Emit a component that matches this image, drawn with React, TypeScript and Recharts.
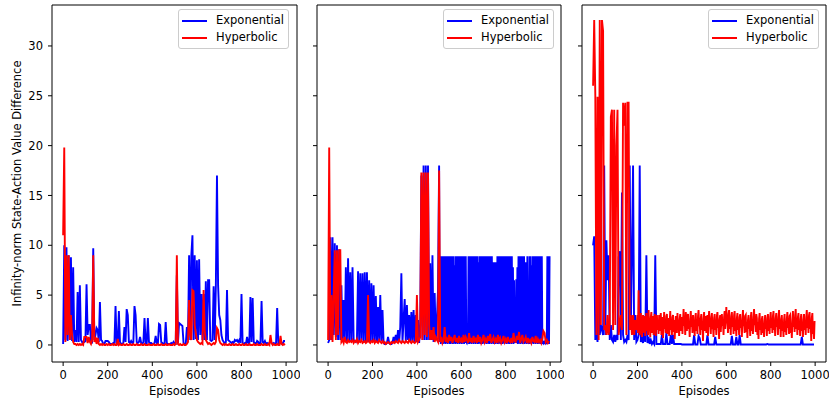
import { Legend, Line, LineChart, ReferenceArea, XAxis, YAxis } from "recharts";

// values sampled every 5 episodes (0, 5, ..., 995), one row = 100 episodes
const STEP = 5;
// the dense blocks (middle blue, right red) are sampled every 2.5 episodes, one row = 50 episodes
const FINE_STEP = 2.5;

const p1Exp = [
  0.1, 10.0, 0.5, 9.8, 0.4, 9.0, 0.5, 8.8, 0.4, 7.8, 0.3, 1.5, 0.3, 5.3, 0.3, 6.0, 0.5, 0.3, 0.3, 0.3,
  0.4, 6.1, 1.0, 2.0, 2.0, 0.4, 0.3, 9.7, 0.5, 1.0, 1.7, 1.5, 0.3, 4.3, 0.5, 0.4, 0.1, 0.1, 0.4, 0.4,
  0.4, 0.3, 0.1, 0.1, 0.1, 0.2, 0.1, 3.9, 0.2, 0.1, 3.4, 0.3, 0.1, 0.1, 0.2, 1.8, 0.3, 3.6, 3.0, 0.3,
  0.2, 0.4, 0.2, 0.3, 3.9, 3.0, 0.3, 0.2, 0.3, 0.8, 0.2, 0.1, 0.3, 2.7, 0.2, 0.2, 2.7, 0.3, 0.2, 0.2,
  0.1, 0.1, 0.2, 0.9, 0.2, 0.1, 2.1, 2.0, 0.3, 0.2, 0.1, 0.2, 2.3, 0.2, 0.1, 0.1, 0.1, 0.2, 0.1, 0.3,
  0.1, 0.1, 7.0, 0.2, 2.2, 2.1, 2.0, 1.9, 0.2, 0.1, 0.1, 1.8, 0.5, 9.0, 0.5, 9.0, 11.0, 0.5, 9.0, 0.6,
  8.5, 0.5, 8.6, 1.0, 5.1, 0.5, 5.1, 0.5, 6.4, 0.5, 6.5, 6.5, 0.5, 0.4, 0.5, 5.9, 0.5, 6.0, 17.0, 6.0,
  3.0, 2.5, 1.0, 0.5, 0.3, 0.2, 0.3, 5.5, 0.5, 0.4, 0.3, 0.2, 0.3, 0.2, 0.5, 0.4, 0.5, 0.3, 0.5, 0.2,
  5.1, 0.2, 0.1, 0.2, 0.1, 0.8, 0.2, 0.1, 4.8, 0.3, 4.7, 0.3, 0.2, 0.1, 0.4, 0.3, 0.1, 0.2, 4.4, 0.3,
  0.2, 0.4, 0.1, 0.2, 0.1, 0.2, 0.4, 0.2, 0.1, 0.2, 0.1, 0.2, 3.7, 0.2, 0.1, 0.3, 0.2, 0.1, 0.4, 0.4,
];

const p1Hyp = [
  11.0, 19.8, 0.3, 9.0, 1.0, 9.0, 0.5, 3.0, 1.0, 0.3, 0.1, 0.1, 0.0, 0.1, 0.0, 0.1, 0.0, 0.1, 0.0, 0.8,
  0.8, 0.8, 0.2, 0.8, 0.3, 0.1, 0.5, 9.0, 0.3, 0.8, 0.1, 0.7, 0.1, 0.0, 0.1, 0.0, 0.1, 0.0, 0.0, 0.1,
  0.0, 0.1, 0.0, 0.0, 0.1, 0.0, 0.1, 0.0, 0.0, 0.6, 0.0, 0.1, 0.0, 0.0, 0.1, 0.0, 0.0, 0.1, 0.0, 0.0,
  0.1, 0.0, 0.0, 0.1, 0.0, 0.0, 0.1, 0.0, 0.0, 0.0, 0.1, 0.0, 0.0, 0.1, 0.0, 0.0, 0.0, 0.1, 0.0, 0.0,
  0.0, 0.1, 0.0, 0.0, 0.0, 0.1, 0.0, 0.0, 0.1, 0.0, 0.0, 0.0, 0.1, 0.0, 0.0, 0.1, 0.0, 0.0, 0.0, 0.1,
  0.0, 0.1, 9.0, 0.1, 0.0, 0.1, 0.0, 0.0, 0.1, 0.0, 0.0, 0.1, 0.3, 4.5, 1.0, 0.5, 5.5, 5.4, 2.0, 1.2,
  0.5, 0.3, 0.2, 0.1, 0.2, 0.1, 5.5, 1.4, 0.5, 0.3, 0.1, 0.2, 0.1, 0.0, 0.1, 0.2, 0.1, 0.3, 1.7, 1.5,
  0.5, 0.2, 0.1, 0.0, 0.1, 0.0, 0.1, 0.0, 0.0, 0.1, 0.0, 0.0, 0.1, 0.0, 0.0, 0.1, 0.0, 0.0, 0.1, 0.0,
  0.0, 0.1, 0.0, 0.0, 0.1, 0.0, 0.0, 0.1, 0.0, 0.0, 0.0, 0.1, 0.0, 0.0, 0.1, 0.0, 0.0, 0.0, 0.1, 0.0,
  0.0, 0.1, 0.0, 0.0, 0.1, 0.0, 1.0, 0.2, 0.0, 0.1, 0.0, 0.0, 0.1, 0.0, 0.0, 0.9, 0.1, 0.0, 0.1, 0.0,
];

// episodes 0..495, step 5
const p2ExpHead = [
  0.2, 0.5, 10.8, 0.5, 10.8, 1.0, 10.2, 0.8, 10.0, 0.5, 9.6, 0.5, 6.0, 0.3, 4.5, 0.5, 7.8, 0.4, 8.7, 0.3,
  7.3, 0.3, 7.8, 0.5, 0.4, 0.3, 0.6, 7.4, 0.3, 7.2, 0.5, 7.2, 0.2, 7.3, 0.4, 7.3, 0.3, 6.5, 0.3, 6.2,
  0.4, 6.0, 0.3, 4.9, 0.3, 3.8, 0.5, 5.0, 0.4, 3.5, 0.2, 0.1, 0.1, 0.2, 0.8, 0.2, 0.1, 0.1, 0.2, 0.8,
  0.3, 1.0, 0.4, 1.5, 0.3, 1.8, 7.2, 0.3, 2.5, 4.6, 0.3, 4.0, 0.5, 3.0, 0.3, 3.3, 0.4, 3.5, 0.3, 3.0,
  0.3, 2.5, 0.2, 2.0, 17.0, 0.5, 18.0, 0.5, 18.0, 0.5, 18.0, 0.5, 8.2, 0.5, 9.0, 0.3, 5.2, 0.5, 2.5, 5.5,
];

// episodes 500..997.5, step 2.5
const p2ExpTail = [
  18.0, 0.3, 8.9, 0.1, 8.9, 0.2, 8.9, 0.1, 8.9, 0.2, 8.9, 0.1, 8.9, 0.2, 8.9, 0.1, 8.9, 0.3, 8.9, 0.1,
  8.9, 0.1, 8.9, 0.2, 8.9, 0.1, 8.9, 0.2, 8.0, 0.1, 8.9, 0.2, 8.9, 0.1, 8.9, 0.2, 8.9, 0.1, 8.9, 0.2,
  8.9, 0.1, 8.9, 0.2, 8.9, 0.1, 8.9, 0.2, 8.9, 0.3, 0.2, 0.4, 0.2, 8.9, 0.1, 8.9, 0.2, 8.9, 0.1, 8.9,
  0.2, 8.9, 0.1, 8.9, 0.2, 8.9, 0.1, 8.9, 0.2, 8.9, 0.1, 8.3, 0.2, 8.9, 0.1, 8.9, 0.2, 8.9, 0.1, 8.9,
  0.2, 8.9, 0.1, 8.9, 0.2, 8.9, 0.1, 8.9, 0.2, 8.9, 0.1, 8.9, 0.2, 8.9, 0.1, 8.9, 0.2, 8.3, 0.1, 8.3,
  0.2, 8.3, 0.1, 8.3, 0.2, 8.9, 0.1, 8.9, 0.2, 8.9, 0.1, 8.9, 0.2, 8.9, 0.1, 8.9, 0.2, 8.9, 0.1, 8.9,
  0.2, 8.9, 0.1, 8.9, 0.2, 8.9, 0.1, 8.9, 0.2, 8.9, 0.1, 8.9, 0.2, 7.8, 0.1, 6.5, 0.2, 4.3, 0.3, 6.6,
  0.2, 7.8, 0.1, 8.9, 0.2, 8.9, 0.1, 8.9, 0.2, 8.9, 0.1, 8.9, 0.2, 8.9, 0.1, 8.3, 0.2, 8.3, 0.1, 8.9,
  0.2, 5.5, 0.1, 8.9, 0.2, 8.9, 0.1, 8.0, 0.2, 8.9, 0.1, 8.9, 0.2, 8.9, 0.1, 8.9, 0.2, 8.9, 0.1, 8.9,
  0.2, 8.9, 0.1, 8.9, 0.2, 8.9, 0.1, 0.3, 0.2, 0.4, 0.1, 0.3, 0.2, 0.4, 0.1, 8.9, 0.2, 8.9, 0.1, 8.9,
];

const p2Hyp = [
  0.5, 19.8, 0.5, 5.0, 0.3, 5.0, 9.5, 0.5, 9.5, 1.0, 9.5, 9.5, 0.3, 0.5, 0.2, 0.8, 0.3, 0.2, 0.5, 0.3,
  0.4, 0.3, 0.5, 0.2, 0.4, 0.3, 0.6, 0.2, 0.4, 0.3, 0.5, 0.2, 0.3, 0.4, 0.2, 0.3, 5.0, 0.3, 0.2, 0.4,
  0.3, 0.5, 0.2, 0.4, 0.3, 0.2, 0.5, 0.3, 0.2, 0.4, 0.2, 0.3, 0.1, 0.2, 0.3, 0.2, 0.1, 0.3, 0.2, 0.3,
  0.2, 0.4, 0.3, 0.2, 0.5, 0.3, 0.2, 0.4, 0.3, 0.2, 0.4, 0.3, 0.2, 0.5, 0.3, 0.2, 0.4, 0.3, 0.2, 0.3,
  5.0, 0.3, 0.5, 0.8, 17.3, 0.5, 17.3, 1.0, 17.3, 0.8, 17.3, 2.0, 0.5, 1.5, 0.5, 1.8, 0.3, 0.8, 0.5, 0.3,
  17.5, 0.3, 0.8, 0.2, 0.5, 1.8, 0.3, 0.6, 0.2, 1.0, 0.4, 0.8, 0.2, 0.6, 1.0, 0.3, 0.7, 0.2, 0.9, 0.4,
  0.6, 0.2, 1.0, 0.3, 0.8, 0.5, 0.2, 1.2, 0.3, 0.7, 0.2, 0.9, 0.4, 0.6, 0.2, 1.0, 0.3, 0.8, 0.2, 0.5,
  1.0, 0.3, 0.6, 0.2, 0.9, 0.4, 1.1, 0.2, 0.5, 0.8, 0.3, 0.6, 0.2, 1.0, 0.4, 0.7, 0.2, 0.5, 0.9, 0.3,
  0.6, 0.2, 0.8, 0.4, 0.3, 0.7, 0.2, 1.2, 0.4, 0.3, 0.9, 0.5, 1.3, 0.2, 0.6, 1.0, 0.3, 0.5, 0.8, 0.2,
  0.7, 0.3, 0.5, 0.2, 0.8, 0.4, 0.3, 0.9, 0.2, 0.6, 0.3, 0.5, 0.2, 0.7, 1.4, 1.2, 0.3, 0.5, 0.2, 0.4,
];

const p3Exp = [
  10.0, 10.9, 0.5, 1.5, 0.3, 10.0, 1.0, 2.0, 1.5, 1.0, 18.0, 1.0, 10.5, 6.5, 9.0, 0.5, 2.0, 0.5, 0.3, 1.0,
  0.3, 1.0, 0.5, 8.8, 9.4, 0.5, 15.3, 1.0, 0.3, 0.5, 0.3, 1.0, 0.5, 18.0, 2.0, 9.0, 18.0, 0.5, 3.0, 0.3,
  0.5, 1.0, 18.0, 0.3, 0.8, 0.2, 1.5, 0.3, 9.0, 0.2, 0.8, 0.1, 0.5, 0.1, 0.3, 0.1, 9.0, 0.1, 0.1, 0.1,
  0.1, 0.1, 1.0, 0.1, 0.1, 0.1, 1.2, 0.1, 0.1, 0.1, 1.0, 0.1, 1.0, 0.1, 0.1, 0.1, 0.1, 0.1, 0.1, 0.1,
  0.05, 0.05, 0.05, 0.05, 0.05, 0.05, 0.05, 0.05, 0.05, 0.05, 0.05, 1.0, 0.05, 0.05, 0.05, 0.9, 0.7, 0.05, 0.05, 0.05,
  0.05, 0.05, 0.05, 1.0, 0.05, 0.05, 0.05, 0.05, 0.05, 0.05, 0.8, 0.05, 0.05, 0.05, 0.05, 0.05, 0.05, 0.05, 0.05, 0.05,
  0.05, 0.05, 0.05, 0.05, 0.05, 0.9, 0.05, 0.05, 0.05, 0.8, 0.05, 0.05, 1.0, 0.05, 0.05, 0.05, 0.05, 0.05, 0.05, 0.05,
  0.05, 0.05, 0.05, 0.05, 0.05, 0.05, 0.05, 0.05, 0.05, 0.05, 0.05, 0.05, 0.05, 0.05, 0.05, 0.05, 0.05, 0.1, 0.05, 0.05,
  0.05, 0.05, 0.05, 0.05, 0.05, 0.05, 0.05, 0.05, 0.05, 0.05, 0.05, 0.05, 0.05, 0.05, 0.05, 0.05, 0.05, 0.05, 0.05, 0.05,
  0.05, 0.05, 0.05, 0.05, 0.05, 0.05, 0.05, 0.05, 0.8, 0.05, 0.05, 0.05, 0.05, 0.05, 0.05, 0.05, 0.05, 0.05, 0.05, 0.05,
];

// episodes 0..195, step 5
const p3HypHead = [
  26.0, 32.6, 25.0, 1.0, 24.9, 0.5, 32.6, 2.0, 32.6, 31.5, 1.5, 2.0, 1.0, 3.0, 1.0, 2.0, 22.9, 23.6, 1.5, 23.6,
  2.0, 20.0, 23.6, 1.0, 2.0, 3.0, 1.5, 24.3, 22.0, 24.3, 1.0, 24.3, 24.3, 1.5, 3.0, 1.0, 3.0, 1.0, 2.5, 1.5,
];

// episodes 200..997.5, step 2.5
const p3HypTail = [
  3.0, 1.2, 5.5, 2.0, 1.0, 2.6, 3.2, 1.5, 0.8, 2.4, 3.0, 1.8, 1.2, 2.9, 0.9, 2.2, 3.2, 1.4, 2.6, 1.0,
  3.5, 1.8, 2.3, 0.8, 2.8, 3.3, 1.2, 2.0, 2.9, 1.0, 1.7, 3.1, 2.2, 0.9, 2.6, 3.0, 1.5, 2.4, 1.1, 3.0,
  1.4, 2.5, 3.2, 1.0, 2.1, 2.8, 0.7, 1.9, 3.3, 1.6, 2.4, 1.2, 2.9, 3.1, 1.1, 2.0, 2.7, 0.9, 2.3, 3.4,
  1.5, 2.2, 1.0, 2.8, 3.0, 1.3, 2.5, 0.6, 1.8, 2.9, 2.1, 1.2, 3.2, 1.7, 2.4, 0.9, 2.6, 3.1, 1.4, 2.0,
  2.8, 1.1, 2.4, 3.6, 1.9, 2.7, 1.0, 3.3, 2.2, 1.4, 2.9, 3.1, 1.6, 2.3, 0.8, 2.6, 3.4, 1.8, 2.5, 1.2,
  3.0, 1.7, 2.2, 0.9, 2.8, 3.2, 1.4, 2.5, 1.1, 2.9, 3.5, 1.9, 2.4, 1.0, 2.7, 3.1, 1.5, 2.2, 0.4, 2.6,
  3.3, 1.4, 2.1, 2.9, 1.2, 2.6, 3.0, 0.9, 2.3, 3.4, 1.8, 2.5, 1.1, 2.8, 3.2, 1.6, 2.0, 0.8, 2.7, 3.1,
  1.5, 2.4, 1.0, 2.9, 3.3, 1.7, 2.2, 0.6, 2.6, 3.0, 1.3, 2.4, 3.1, 1.9, 2.5, 1.0, 2.8, 3.4, 1.6, 2.3,
  3.8, 2.2, 2.7, 1.2, 3.1, 3.5, 1.6, 2.4, 1.0, 2.9, 3.3, 1.8, 2.6, 1.1, 3.0, 3.4, 1.4, 2.2, 0.9, 2.7,
  3.2, 1.5, 2.5, 1.0, 2.8, 3.1, 1.7, 2.3, 0.8, 2.6, 3.5, 1.9, 2.4, 1.2, 2.9, 3.0, 1.3, 2.1, 0.7, 2.5,
  3.0, 1.6, 2.4, 0.9, 2.7, 3.3, 1.4, 2.2, 1.1, 2.8, 3.6, 2.0, 2.5, 1.3, 3.1, 2.7, 1.0, 2.3, 0.6, 2.6,
  3.2, 1.5, 2.3, 1.0, 2.6, 2.9, 1.2, 2.0, 0.8, 2.4, 3.0, 1.6, 2.2, 0.9, 2.7, 3.1, 1.4, 2.5, 1.1, 2.8,
  3.3, 1.7, 2.6, 1.2, 2.9, 3.4, 1.5, 2.4, 0.9, 2.7, 3.2, 1.8, 2.5, 1.0, 2.8, 3.5, 1.6, 2.3, 0.8, 2.6,
  3.0, 1.4, 2.2, 0.8, 2.5, 3.1, 1.3, 2.1, 1.0, 2.6, 3.3, 1.7, 2.4, 1.1, 2.9, 3.0, 1.2, 2.0, 0.7, 2.4,
  3.4, 1.8, 2.7, 1.3, 3.0, 3.6, 1.6, 2.5, 1.0, 2.8, 3.2, 1.5, 2.3, 0.9, 2.6, 3.1, 1.4, 2.2, 0.8, 2.5,
  3.1, 1.5, 2.4, 1.0, 2.8, 3.5, 1.7, 2.6, 1.2, 3.0, 3.3, 1.6, 2.3, 0.4, 2.7, 3.2, 1.1, 2.0, 0.6, 2.4,
];

const xTicks = [0, 200, 400, 600, 800, 1000];
const yTicks = [0, 5, 10, 15, 20, 25, 30];
const X_DOMAIN = [-49.95, 1048.95];
const Y_DOMAIN = [-1.71, 34.11];
const FONT = '"DejaVu Sans", sans-serif';
const FONT_SIZE = 11.5;
const LINE_W = 1.9;
const BLUE = "#0000ff";
const RED = "#ff0000";

const toPoints = (values: number[], start: number, step: number) =>
  values.map((v, i) => ({ ep: start + i * step, v }));

const LegendBox = ({ payload }: any) => (
  <div
    style={{
      width: 111,
      height: 40,
      boxSizing: "border-box",
      border: "1px solid #cccccc",
      borderRadius: 3,
      background: "rgba(255,255,255,0.8)",
      position: "relative",
      fontFamily: FONT,
      fontSize: FONT_SIZE,
    }}
  >
    {(payload || []).map((entry: any, i: number) => (
      <div
        key={entry.value}
        style={{
          position: "absolute",
          left: 3,
          top: 2 + i * 17,
          height: 17,
          display: "flex",
          alignItems: "center",
          whiteSpace: "nowrap",
        }}
      >
        <span
          style={{
            display: "inline-block",
            width: 25,
            height: 2,
            background: entry.color,
            marginRight: 9,
          }}
        />
        <span style={{ color: "#000", lineHeight: "17px" }}>{entry.value}</span>
      </div>
    ))}
  </div>
);

const YLabel = (props: any) => {
  const { viewBox } = props;
  const cy = viewBox.y + viewBox.height / 2;
  return (
    <text
      x={17}
      y={cy}
      transform={`rotate(-90 17 ${cy})`}
      textAnchor="middle"
      dominantBaseline="central"
      fontSize={FONT_SIZE}
      fontFamily={FONT}
      fill="#000"
    >
      Infinity-norm State-Action Value Difference
    </text>
  );
};

interface PanelProps {
  exp: { ep: number; v: number }[];
  hyp: { ep: number; v: number }[];
  left: number;
  plotWidth: number;
  axisWidth: number;
  showYLabels: boolean;
}

const Panel = ({ exp, hyp, left, plotWidth, axisWidth, showYLabels }: PanelProps) => {
  const tickStyle = { fill: "#000", fontSize: FONT_SIZE, fontFamily: FONT };
  return (
    <div style={{ position: "absolute", left, top: 0 }}>
      <LineChart
        width={axisWidth + plotWidth + 3}
        height={398}
        margin={{ top: 5, right: 3, bottom: 0, left: 0 }}
      >
        <XAxis
          dataKey="ep"
          type="number"
          domain={X_DOMAIN}
          ticks={xTicks}
          interval={0}
          height={36}
          tickSize={4}
          tickMargin={5}
          axisLine={false}
          tickLine={{ stroke: "#000" }}
          tick={tickStyle}
          allowDataOverflow
          label={{
            value: "Episodes",
            position: "insideBottom",
            offset: 3,
            fill: "#000",
            fontSize: FONT_SIZE,
            fontFamily: FONT,
          }}
        />
        <YAxis
          type="number"
          domain={Y_DOMAIN}
          ticks={yTicks}
          interval={0}
          width={axisWidth}
          tickSize={4}
          tickMargin={5}
          axisLine={false}
          tickLine={{ stroke: "#000" }}
          tick={tickStyle}
          allowDataOverflow
          tickFormatter={showYLabels ? undefined : () => ""}
          label={showYLabels ? YLabel : undefined}
        />
        <Line
          data={exp}
          type="linear"
          dataKey="v"
          name="Exponential"
          stroke={BLUE}
          strokeWidth={LINE_W}
          dot={false}
          isAnimationActive={false}
        />
        <Line
          data={hyp}
          type="linear"
          dataKey="v"
          name="Hyperbolic"
          stroke={RED}
          strokeWidth={LINE_W}
          dot={false}
          isAnimationActive={false}
        />
        <ReferenceArea
          x1={X_DOMAIN[0]}
          x2={X_DOMAIN[1]}
          y1={Y_DOMAIN[0]}
          y2={Y_DOMAIN[1]}
          fill="none"
          stroke="#000"
          strokeWidth={1}
          strokeOpacity={1}
          ifOverflow="visible"
        />
        <Legend
          layout="horizontal"
          align="center"
          verticalAlign="middle"
          wrapperStyle={{ left: axisWidth + 126, top: 9, width: 111, height: 40 }}
          content={(props: any) => <LegendBox payload={props.payload} />}
        />
      </LineChart>
    </div>
  );
};

export default function App() {
  const p2ExpPoints = [
    ...toPoints(p2ExpHead, 0, STEP),
    ...toPoints(p2ExpTail, 500, FINE_STEP),
  ];
  const p3HypPoints = [
    ...toPoints(p3HypHead, 0, STEP),
    ...toPoints(p3HypTail, 200, FINE_STEP),
  ];
  return (
    <div
      style={{
        position: "absolute",
        left: 0,
        top: 0,
        width: 831,
        height: 398,
        background: "#fff",
        overflow: "hidden",
      }}
    >
      <Panel
        exp={toPoints(p1Exp, 0, STEP)}
        hyp={toPoints(p1Hyp, 0, STEP)}
        left={0}
        plotWidth={245}
        axisWidth={52}
        showYLabels
      />
      <Panel
        exp={p2ExpPoints}
        hyp={toPoints(p2Hyp, 0, STEP)}
        left={307}
        plotWidth={244}
        axisWidth={10}
        showYLabels={false}
      />
      <Panel
        exp={toPoints(p3Exp, 0, STEP)}
        hyp={p3HypPoints}
        left={572}
        plotWidth={244}
        axisWidth={10}
        showYLabels={false}
      />
    </div>
  );
}
